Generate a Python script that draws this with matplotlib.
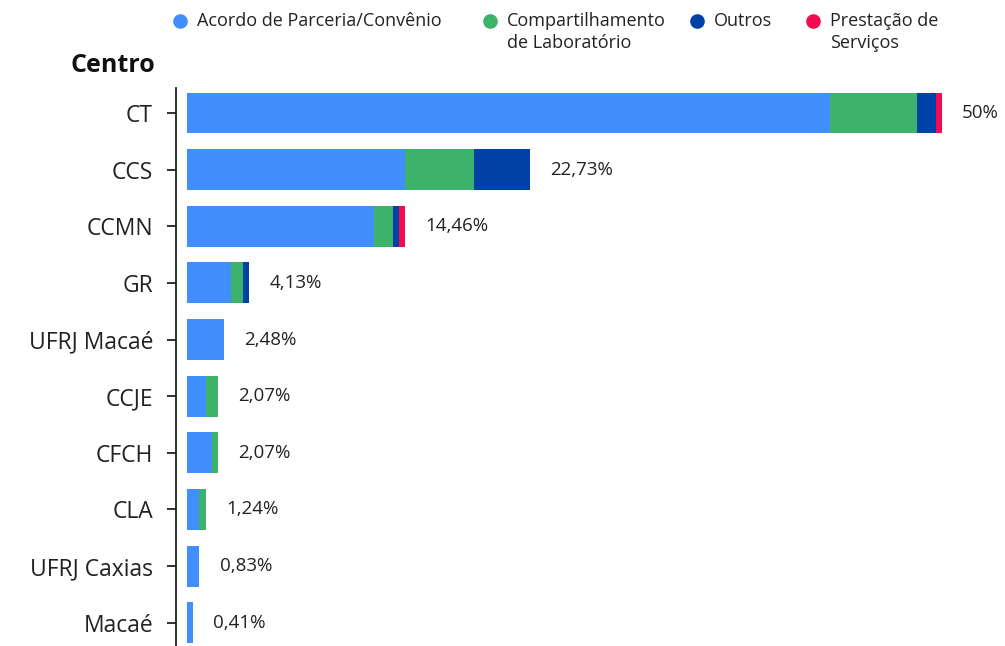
import matplotlib
matplotlib.use("Agg")
import matplotlib.pyplot as plt
from matplotlib.lines import Line2D
import numpy as np

plt.rcParams['font.family'] = ['Open Sans', 'DejaVu Sans']

centros = ['CT', 'CCS', 'CCMN', 'GR', 'UFRJ Macaé', 'CCJE', 'CFCH', 'CLA',
           'UFRJ Caxias', 'Macaé']
acordo = [103, 35, 30, 7, 6, 3, 4, 2, 2, 1]
compartilhamento = [14, 11, 3, 2, 0, 2, 1, 1, 0, 0]
outros = [3, 9, 1, 1, 0, 0, 0, 0, 0, 0]
prestacao = [1, 0, 1, 0, 0, 0, 0, 0, 0, 0]
percent_labels = ['50%', '22,73%', '14,46%', '4,13%', '2,48%', '2,07%', '2,07%',
                  '1,24%', '0,83%', '0,41%']

series = [
    ('Acordo de Parceria/Convênio', acordo, '#418FFF'),
    ('Compartilhamento\nde Laboratório', compartilhamento, '#3DB26B'),
    ('Outros', outros, '#0041A8'),
    ('Prestação de\nServiços', prestacao, '#F50A51'),
]

W, H = 1005, 646
fig = plt.figure(figsize=(W / 100, H / 100), dpi=100)
ax = fig.add_axes([176 / W, 0, 1 - 176 / W, 1 - 88 / H])

y = np.arange(len(centros))
left = np.zeros(len(centros))
for name, vals, color in series:
    vals = np.array(vals, dtype=float)
    ax.barh(y, vals, left=left, height=0.72, color=color, label=name)
    left += vals

for yi, total, lab in zip(y, left, percent_labels):
    ax.annotate(lab, (total, yi), xytext=(14.5, 0), textcoords='offset points',
                va='center', ha='left', fontsize=13.5, color='#222222')

ax.set_xlim(-1.76, 131.1)
ax.set_ylim(len(centros) - 1 + 0.41, -0.44)
ax.set_yticks(y)
ax.set_yticklabels(centros, fontsize=16.5, color='#222222')
ax.tick_params(axis='y', length=6.5, width=1.3, pad=10, color='#222222')
ax.set_xticks([])
for s in ['top', 'right', 'bottom']:
    ax.spines[s].set_visible(False)
ax.spines['left'].set_linewidth(1.3)
ax.spines['left'].set_color('#222222')

fig.text(155 / W, 1 - 65 / H, 'Centro', ha='right', va='center',
         fontsize=18, fontweight='bold', color='#111111')

# legend drawn by hand so markers line up with the first text line
legend_x = [180, 490, 697, 813]
for (name, _, color), lx in zip(series, legend_x):
    fig.add_artist(Line2D([lx / W], [1 - 21 / H], marker='o', ls='',
                          markersize=9.5, color=color, transform=fig.transFigure))
    fig.text((lx + 17) / W, 1 - 21 / H, name.split('\n')[0], ha='left',
             va='center', fontsize=13, color='#222222')
    if '\n' in name:
        fig.text((lx + 17) / W, 1 - 43 / H, name.split('\n')[1], ha='left',
                 va='center', fontsize=13, color='#222222')

fig.savefig('out.png', dpi=100)
